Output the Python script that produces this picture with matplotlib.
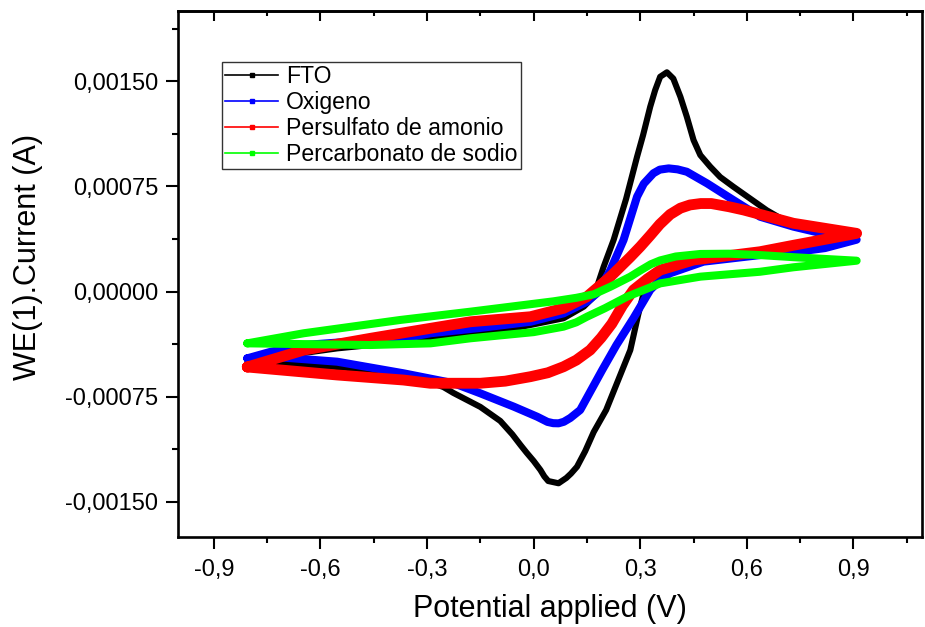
import matplotlib
matplotlib.use("Agg")
import matplotlib.pyplot as plt
from matplotlib.lines import Line2D
from matplotlib.ticker import MultipleLocator, FuncFormatter

plt.rcParams['font.family'] = ['Liberation Sans', 'DejaVu Sans']

# Cyclic voltammograms: potential (V) and current (mA), anodic sweep then cathodic sweep
fto_v = [-0.805, -0.74, -0.65, -0.553, -0.45, -0.366, -0.29, -0.178, -0.08, -0.009, 0.084, 0.141,
         0.169, 0.197, 0.225, 0.26, 0.291, 0.308, 0.328, 0.342, 0.356, 0.375, 0.393, 0.413, 0.431,
         0.45, 0.469, 0.497, 0.525, 0.562, 0.628, 0.656, 0.69, 0.731, 0.82, 0.909,
         0.82, 0.731, 0.637, 0.544, 0.431, 0.356, 0.335, 0.319, 0.294, 0.272, 0.238, 0.204, 0.169,
         0.145, 0.122, 0.105, 0.092, 0.070, 0.041, 0.030, 0.019, 0.0, -0.02, -0.037, -0.06, -0.094,
         -0.150, -0.226, -0.254, -0.366, -0.553, -0.74, -0.805]
fto_i = [-0.495, -0.47, -0.44, -0.406, -0.38, -0.368, -0.330, -0.31, -0.275, -0.239, -0.191, -0.108,
         -0.037, 0.177, 0.368, 0.66, 0.962, 1.117, 1.319, 1.438, 1.533, 1.565, 1.52, 1.39, 1.248,
         1.081, 0.974, 0.891, 0.817, 0.748, 0.630, 0.58, 0.53, 0.487, 0.44, 0.39,
         0.33, 0.29, 0.273, 0.237, 0.213, 0.141, 0.12, 0.082, -0.168, -0.418, -0.632, -0.846, -1.003,
         -1.14, -1.251, -1.30, -1.331, -1.369, -1.353, -1.32, -1.274, -1.21, -1.15, -1.096, -1.02,
         -0.924, -0.824, -0.724, -0.682, -0.582, -0.539, -0.510, -0.495]

oxi_v = [-0.806, -0.74, -0.647, -0.50, -0.366, -0.29, -0.15, -0.009, 0.084, 0.150, 0.178, 0.216,
         0.253, 0.291, 0.31, 0.337, 0.355, 0.380, 0.405, 0.431, 0.488, 0.562, 0.637, 0.731, 0.82,
         0.909,
         0.82, 0.731, 0.637, 0.478, 0.384, 0.355, 0.328, 0.281, 0.233, 0.193, 0.162, 0.131, 0.103,
         0.085, 0.070, 0.055, 0.039, 0.010, -0.056, -0.150, -0.225, -0.366, -0.553, -0.740, -0.806]
oxi_i = [-0.477, -0.43, -0.382, -0.355, -0.334, -0.298, -0.26, -0.216, -0.156, -0.073, -0.013, 0.153,
         0.368, 0.677, 0.77, 0.844, 0.87, 0.879, 0.872, 0.855, 0.772, 0.653, 0.534, 0.463, 0.41,
         0.37,
         0.31, 0.28, 0.260, 0.213, 0.130, 0.08, 0.011, -0.19, -0.382, -0.560, -0.703, -0.846, -0.903,
         -0.93, -0.941, -0.94, -0.931, -0.894, -0.822, -0.727, -0.655, -0.584, -0.501, -0.465, -0.477]

per_v = [-0.806, -0.647, -0.459, -0.291, -0.178, -0.009, 0.084, 0.150, 0.216, 0.272, 0.30, 0.328,
         0.355, 0.384, 0.413, 0.44, 0.47, 0.50, 0.55, 0.591, 0.731, 0.909,
         0.731, 0.637, 0.450, 0.356, 0.32, 0.281, 0.25, 0.22, 0.19, 0.159, 0.12, 0.084, 0.04,
         -0.009, -0.08, -0.150, -0.291, -0.366, -0.553, -0.806]
per_i = [-0.539, -0.418, -0.334, -0.263, -0.216, -0.180, -0.120, -0.037, 0.106, 0.246, 0.32, 0.40,
         0.48, 0.55, 0.595, 0.618, 0.628, 0.628, 0.605, 0.582, 0.487, 0.415,
         0.33, 0.284, 0.225, 0.153, 0.09, 0.011, -0.10, -0.23, -0.33, -0.418, -0.49, -0.537, -0.58,
         -0.608, -0.64, -0.655, -0.655, -0.632, -0.596, -0.539]

pcb_v = [-0.806, -0.647, -0.375, -0.178, 0.056, 0.120, 0.169, 0.216, 0.272, 0.30, 0.33, 0.356,
         0.40, 0.469, 0.55, 0.637, 0.731, 0.909,
         0.731, 0.637, 0.469, 0.356, 0.263, 0.20, 0.150, 0.12, 0.084, 0.0, -0.178, -0.29, -0.459,
         -0.806]
pcb_i = [-0.37, -0.298, -0.203, -0.144, -0.07, -0.045, -0.02, 0.034, 0.106, 0.15, 0.195, 0.222,
         0.25, 0.268, 0.27, 0.260, 0.245, 0.22,
         0.173, 0.141, 0.106, 0.058, -0.037, -0.12, -0.180, -0.22, -0.251, -0.29, -0.334, -0.370,
         -0.382, -0.37]

labels = ["FTO", "Oxigeno", "Persulfato de amonio", "Percarbonato de sodio"]
colors = ["#000000", "#0000ff", "#ff0000", "#00ff00"]
widths = [4.4, 5.8, 7.8, 5.8]
series = [(fto_v, fto_i), (oxi_v, oxi_i), (per_v, per_i), (pcb_v, pcb_i)]

x_major = [-0.9, -0.6, -0.3, 0.0, 0.3, 0.6, 0.9]
y_major = [-0.0015, -0.00075, 0.0, 0.00075, 0.0015]

fig = plt.figure(figsize=(9.25, 6.27), dpi=100)
ax = fig.add_axes([0.1928, 0.1430, 0.9964 - 0.1928, 0.9830 - 0.1430])

for (v, i_ma), c, lw in zip(series, colors, widths):
    ax.plot(v, [x * 1e-3 for x in i_ma], color=c, lw=lw,
            solid_joinstyle='round', solid_capstyle='round')

ax.set_xlim(-1.0, 1.092)
ax.set_ylim(-0.001755, 0.002005)

ax.set_xticks(x_major)
ax.xaxis.set_minor_locator(MultipleLocator(0.15))
ax.set_yticks(y_major)
ax.yaxis.set_minor_locator(MultipleLocator(0.000375))

ax.xaxis.set_major_formatter(FuncFormatter(lambda v, p: f"{round(v, 1) + 0.0:.1f}".replace('.', ',')))
ax.yaxis.set_major_formatter(FuncFormatter(lambda v, p: f"{round(v, 6) + 0.0:.5f}".replace('.', ',')))

for s in ax.spines.values():
    s.set_linewidth(1.9)

ax.tick_params(axis='both', which='major', direction='out', length=8.5, width=1.5,
               labelsize=17, colors='black')
ax.tick_params(axis='both', which='minor', direction='out', length=4.2, width=1.5)
ax.tick_params(axis='x', which='major', pad=7)
ax.tick_params(axis='y', which='major', pad=6)
ax.tick_params(right=False, top=False, which='both')

# inward ticks along the top edge
top = ax.secondary_xaxis('top')
top.set_xticks(x_major)
top.xaxis.set_minor_locator(MultipleLocator(0.15))
top.tick_params(which='major', direction='in', length=7.5, width=1.5, labeltop=False)
top.tick_params(which='minor', direction='in', length=3.8, width=1.5)
top.spines['top'].set_linewidth(1.9)

ax.set_xlabel("Potential applied (V)", fontsize=22)
ax.xaxis.set_label_coords(0.5, -0.108)
ax.set_ylabel("WE(1).Current (A)", fontsize=22)
ax.yaxis.set_label_coords(-0.182, 0.532)

handles = [Line2D([], [], color=c, lw=1.2, marker='s', markersize=3) for c in colors]
leg = ax.legend(handles, labels, loc='upper left',
                bbox_to_anchor=(221.7 / 925, 1 - 61.7 / 627), bbox_transform=fig.transFigure,
                borderaxespad=0, fontsize=16.6, frameon=True, fancybox=False, shadow=False,
                framealpha=1, edgecolor='#333333', handlelength=2.3, handletextpad=0.32,
                labelspacing=0.12, borderpad=0.16, numpoints=1)
leg.get_frame().set_linewidth(1.0)

fig.savefig("out.png", dpi=100)
